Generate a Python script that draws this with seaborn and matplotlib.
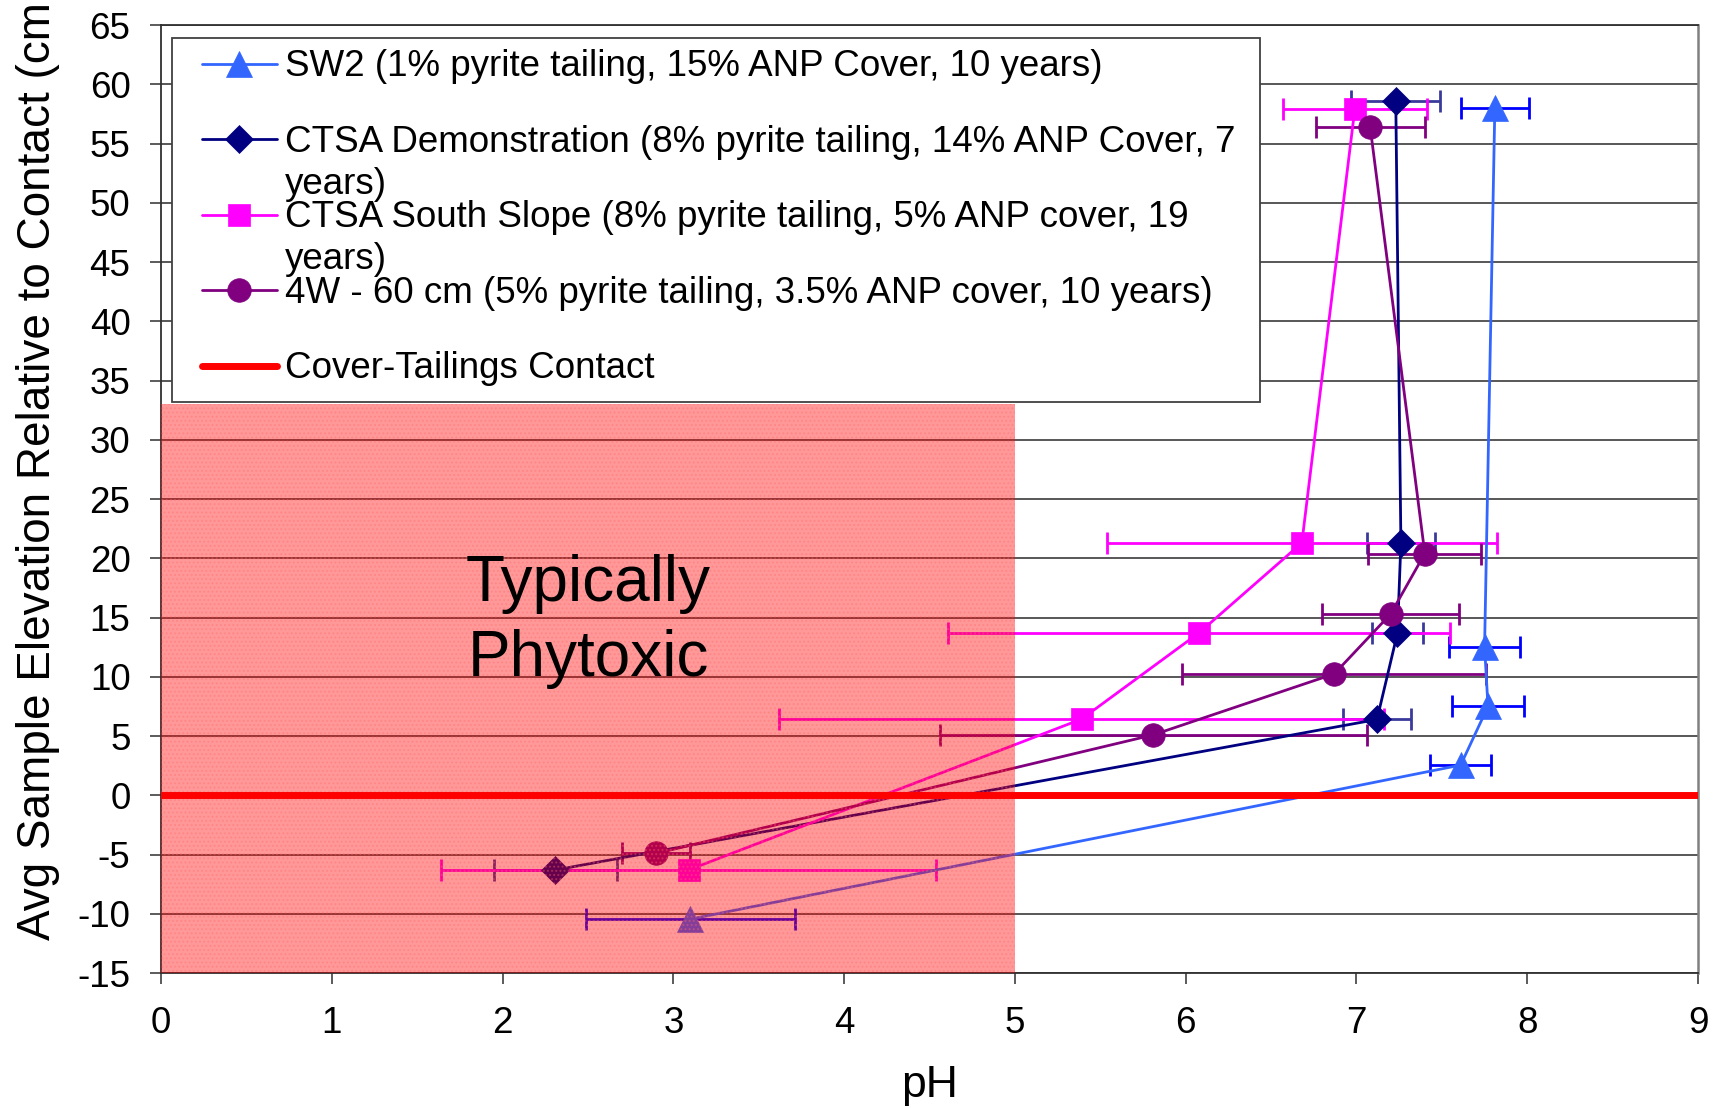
import numpy as np
import pandas as pd
import matplotlib
matplotlib.use("Agg")
import matplotlib.pyplot as plt
from matplotlib.patches import Rectangle
import seaborn as sns

# ---------------- data ----------------
sw2_elev = [-10.45, 2.55, 7.5, 12.55, 58.0]
sw2_ph = [3.10, 7.61, 7.77, 7.75, 7.81]
sw2_err = [0.61, 0.18, 0.21, 0.21, 0.20]

demo_elev = [-6.3, 6.4, 13.7, 21.3, 58.6]
demo_ph = [2.31, 7.12, 7.24, 7.26, 7.23]
demo_err = [0.36, 0.20, 0.15, 0.20, 0.26]

south_elev = [-6.3, 6.43, 13.73, 21.3, 57.9]
south_ph = [3.09, 5.39, 6.08, 6.68, 6.99]
south_err = [1.45, 1.77, 1.47, 1.14, 0.42]

w4_elev = [-4.9, 5.1, 10.25, 15.3, 20.4, 56.4]
w4_ph = [2.90, 5.81, 6.87, 7.20, 7.40, 7.08]
w4_err = [0.20, 1.25, 0.89, 0.40, 0.33, 0.32]

contact_elev = 0
phytoxic_ph_max = 5
phytoxic_top = 33

series_names = [
    "SW2 (1% pyrite tailing, 15% ANP Cover, 10 years)",
    "CTSA Demonstration (8% pyrite tailing, 14% ANP Cover, 7",
    "CTSA South Slope (8% pyrite tailing, 5% ANP cover, 19",
    "4W - 60 cm (5% pyrite tailing, 3.5% ANP cover, 10 years)",
]
wrapped = [None, "years)", "years)", None, None]
contact_label = "Cover-Tailings Contact"

x_ticks = list(range(0, 10))
y_ticks = list(range(-15, 70, 5))

# ---------------- style ----------------
sns.set_style("ticks")
plt.rcParams["font.family"] = ["Liberation Sans", "DejaVu Sans"]
plt.rcParams["axes.unicode_minus"] = False
plt.rcParams["text.color"] = "black"
plt.rcParams["axes.labelcolor"] = "black"
plt.rcParams["xtick.color"] = "black"
plt.rcParams["ytick.color"] = "black"

fig = plt.figure(figsize=(17.18, 11.08), dpi=100)
ax = fig.add_axes([0.0937, 0.1218, 0.8947, 0.8556])

elevs = [sw2_elev, demo_elev, south_elev, w4_elev]
phs = [sw2_ph, demo_ph, south_ph, w4_ph]
errs = [sw2_err, demo_err, south_err, w4_err]
line_colors = ["#3366FF", "#000080", "#FF00FF", "#800080"]
err_colors = ["#0000FF", "#3A3A9A", "#FF00FF", "#800080"]
markers = ["^", "D", "s", "o"]
msizes = [19, 14, 15.5, 17]

for i in range(4):
    ax.errorbar(phs[i], elevs[i], xerr=errs[i], fmt="none",
                ecolor=err_colors[i], elinewidth=2.0, capsize=8,
                capthick=2.0, zorder=2)

for i in range(4):
    df = pd.DataFrame({"pH": phs[i], "elev": elevs[i]})
    sns.lineplot(data=df, x="pH", y="elev", sort=False, orient="y",
                 estimator=None, color=line_colors[i], marker=markers[i],
                 markersize=msizes[i], markeredgecolor=line_colors[i],
                 markeredgewidth=0.5, linewidth=2.0, label=series_names[i],
                 ax=ax, zorder=3)

# phytoxic zone overlay
ax.fill_between([0, phytoxic_ph_max], -15, phytoxic_top, facecolor="#FF0000",
                alpha=0.40, edgecolor="none", zorder=3.5)
ax.fill_between([0, phytoxic_ph_max], -15, phytoxic_top, facecolor="none",
                hatch="....", edgecolor="#FF6A6A", linewidth=0, alpha=0.35,
                zorder=3.6)

ax.axhline(contact_elev, color="#FF0000", linewidth=5, zorder=4,
           label=contact_label)

ax.text(2.5, 14.7, "Typically\nPhytoxic", ha="center", va="center",
        fontsize=46, color="black", linespacing=1.32, zorder=4.5)

# axes
ax.set_xlim(0, 9)
ax.set_ylim(-15, 65)
ax.set_xticks(x_ticks)
ax.set_yticks(y_ticks)
ax.tick_params(axis="both", labelsize=26.5, length=8, width=1.2,
               color="#404040", labelcolor="black", direction="out")
ax.tick_params(axis="x", pad=16)
ax.tick_params(axis="y", pad=14)
ax.yaxis.grid(True, color="#2a2a2a", linewidth=1.1, zorder=1)
ax.set_axisbelow(True)
for side in ["left", "bottom", "top"]:
    ax.spines[side].set_color("#303030")
    ax.spines[side].set_linewidth(1.3)
ax.spines["right"].set_color("#808080")
ax.spines["right"].set_linewidth(1.8)

ax.set_xlabel("pH", fontsize=32, color="black")
ax.set_ylabel("Avg Sample Elevation Relative to Contact (cm", fontsize=33,
              color="black")
ax.xaxis.set_label_coords(0.5, -0.097)
ax.yaxis.set_label_coords(-0.066, 0.5295)

# legend frame (white box) and legend content
frame = Rectangle((0.0071, 0.6023), 0.7077, 0.3840, transform=ax.transAxes,
                  facecolor="white", edgecolor="#404040", linewidth=1.3,
                  zorder=5.5, clip_on=False)
ax.add_patch(frame)

handles, labels = ax.get_legend_handles_labels()
leg = ax.legend(handles, labels, loc="upper left",
                bbox_to_anchor=(0.0268, 0.9742), borderaxespad=0,
                fontsize=26.5, frameon=False, labelspacing=1.1,
                handlelength=2.02, handletextpad=0.22, borderpad=0,
                numpoints=1, labelcolor="black")
leg.set_zorder(6)

for t, extra in zip(leg.get_texts(), wrapped):
    if extra:
        ax.annotate(extra, xy=(0, 0), xycoords=t, xytext=(0, -5),
                    textcoords="offset points", ha="left", va="top",
                    fontsize=26.5, color="black", zorder=7,
                    annotation_clip=False)

fig.savefig("out.png", dpi=100, facecolor="white")
